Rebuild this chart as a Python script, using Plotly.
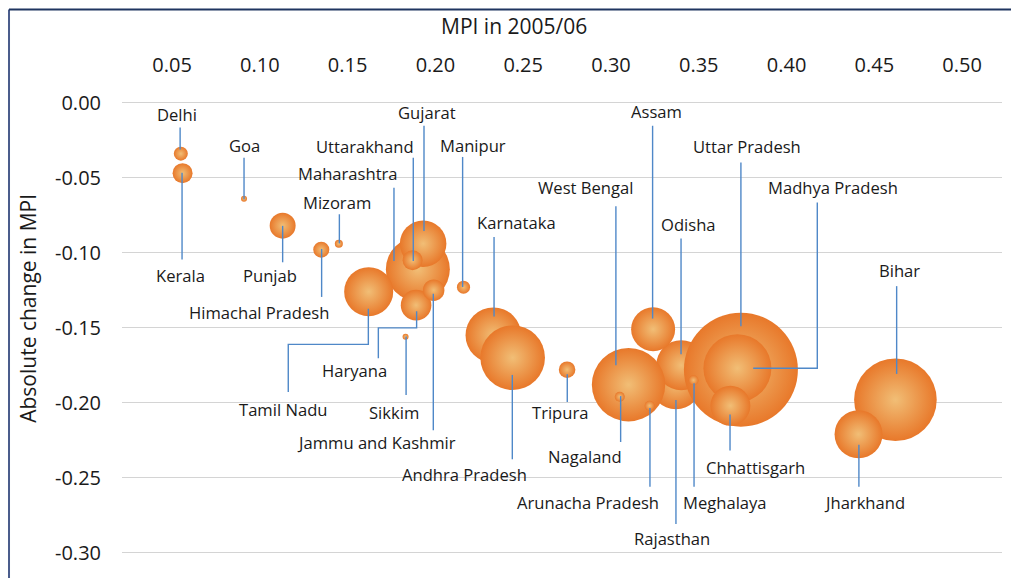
import plotly.graph_objects as go

# ---------------- data ----------------
states = [
    "Rajasthan", "Odisha", "West Bengal", "Uttar Pradesh", "Madhya Pradesh",
    "Chhattisgarh", "Bihar", "Jharkhand", "Karnataka", "Andhra Pradesh",
    "Maharashtra", "Gujarat", "Tamil Nadu", "Assam", "Haryana", "Punjab",
    "Jammu and Kashmir", "Kerala", "Uttarakhand", "Tripura", "Himachal Pradesh",
    "Delhi", "Manipur", "Nagaland", "Arunacha Pradesh", "Meghalaya", "Mizoram",
    "Goa", "Sikkim",
]
mpi_2005 = [
    0.337, 0.340, 0.310, 0.374, 0.372,
    0.368, 0.462, 0.441, 0.233, 0.244,
    0.190, 0.193, 0.162, 0.324, 0.189, 0.113,
    0.199, 0.056, 0.187, 0.275, 0.135,
    0.055, 0.216, 0.305, 0.322, 0.347, 0.145,
    0.091, 0.183,
]
abs_change = [
    -0.187, -0.175, -0.188, -0.178, -0.177,
    -0.202, -0.198, -0.221, -0.155, -0.170,
    -0.111, -0.094, -0.126, -0.151, -0.135, -0.082,
    -0.125, -0.047, -0.105, -0.178, -0.098,
    -0.034, -0.123, -0.196, -0.202, -0.185, -0.094,
    -0.064, -0.156,
]
bubble_value = [
    34.5, 31.9, 68.8, 166.0, 59.1,
    20.4, 87.2, 29.4, 39.5, 53.3,
    52.3, 27.7, 30.7, 24.7, 12.0, 8.6,
    5.9, 5.1, 5.1, 3.5, 3.3,
    2.5, 2.2, 1.3, 1.3, 1.3, 0.82,
    0.46, 0.46,
]

x_ticks = [0.05, 0.10, 0.15, 0.20, 0.25, 0.30, 0.35, 0.40, 0.45, 0.50]
y_ticks = [0.00, -0.05, -0.10, -0.15, -0.20, -0.25, -0.30]

# ---------------- label layout (data units) ----------------
label_pos = {
    "Delhi": (0.0527, -0.0077), "Goa": (0.0912, -0.0285),
    "Kerala": (0.0546, -0.1152), "Punjab": (0.1058, -0.1152),
    "Mizoram": (0.1440, -0.0664), "Himachal Pradesh": (0.0997, -0.1401),
    "Maharashtra": (0.1502, -0.0472), "Uttarakhand": (0.1599, -0.0291),
    "Gujarat": (0.1954, -0.0066), "Manipur": (0.2216, -0.0285),
    "Karnataka": (0.2459, -0.0797), "Tamil Nadu": (0.1134, -0.2046),
    "Haryana": (0.1538, -0.1785), "Sikkim": (0.1763, -0.2062),
    "Jammu and Kashmir": (0.1666, -0.2267), "Andhra Pradesh": (0.2163, -0.2477),
    "Tripura": (0.2707, -0.2068), "West Bengal": (0.2852, -0.0565),
    "Nagaland": (0.2854, -0.2360), "Arunacha Pradesh": (0.2869, -0.2664),
    "Rajasthan": (0.3346, -0.2907), "Meghalaya": (0.3652, -0.2664),
    "Chhattisgarh": (0.3825, -0.2432), "Jharkhand": (0.4446, -0.2664),
    "Bihar": (0.4646, -0.1119), "Odisha": (0.3440, -0.0810),
    "Assam": (0.3262, -0.0062), "Uttar Pradesh": (0.3773, -0.0291),
    "Madhya Pradesh": (0.4266, -0.0567),
}
leader_paths = {
    "Delhi": [(0.0546, -0.0166), (0.0546, -0.0313)],
    "Goa": [(0.0910, -0.0368), (0.0910, -0.0644)],
    "Kerala": [(0.0557, -0.0468), (0.0557, -0.1046)],
    "Punjab": [(0.1130, -0.0821), (0.1130, -0.1064)],
    "Mizoram": [(0.1453, -0.0744), (0.1453, -0.0938)],
    "Himachal Pradesh": [(0.1352, -0.0975), (0.1352, -0.1295)],
    "Maharashtra": [(0.1764, -0.0567), (0.1764, -0.1055)],
    "Uttarakhand": [(0.1874, -0.0368), (0.1874, -0.1055)],
    "Gujarat": [(0.1935, -0.0154), (0.1935, -0.0856)],
    "Manipur": [(0.2155, -0.0362), (0.2155, -0.1229)],
    "Karnataka": [(0.2334, -0.0896), (0.2334, -0.1426)],
    "Tamil Nadu": [(0.1618, -0.1373), (0.1618, -0.1611), (0.1162, -0.1611), (0.1162, -0.1929)],
    "Haryana": [(0.1893, -0.1391), (0.1893, -0.1501), (0.1675, -0.1501), (0.1675, -0.1704)],
    "Sikkim": [(0.1833, -0.1558), (0.1833, -0.1949)],
    "Jammu and Kashmir": [(0.1988, -0.1274), (0.1988, -0.2183)],
    "Andhra Pradesh": [(0.2438, -0.1815), (0.2438, -0.2377)],
    "Tripura": [(0.2751, -0.1810), (0.2751, -0.1995)],
    "West Bengal": [(0.3028, -0.0691), (0.3028, -0.1750)],
    "Nagaland": [(0.3055, -0.1956), (0.3055, -0.2262)],
    "Arunacha Pradesh": [(0.3222, -0.2035), (0.3222, -0.2560)],
    "Rajasthan": [(0.3370, -0.1982), (0.3370, -0.2808)],
    "Meghalaya": [(0.3473, -0.1870), (0.3473, -0.2560)],
    "Chhattisgarh": [(0.3678, -0.2079), (0.3678, -0.2318)],
    "Jharkhand": [(0.4412, -0.2280), (0.4412, -0.2560)],
    "Bihar": [(0.4627, -0.1223), (0.4627, -0.1808)],
    "Odisha": [(0.3399, -0.0905), (0.3399, -0.1677)],
    "Assam": [(0.3237, -0.0154), (0.3237, -0.1439)],
    "Uttar Pradesh": [(0.3740, -0.0399), (0.3740, -0.1490)],
    "Madhya Pradesh": [(0.4175, -0.0666), (0.4175, -0.1770), (0.3810, -0.1770)],
}

FONT = "Open Sans"

fig = go.Figure()

fig.add_trace(go.Scatter(
    x=mpi_2005, y=abs_change, mode="markers", text=states,
    marker=dict(
        size=bubble_value, sizemode="area", sizeref=0.02555,
        color="#E8782A",
        gradient=dict(type="radial", color="#F1BE76"),
        line=dict(width=0), opacity=1,
    ),
    hovertemplate="%{text}<br>MPI 2005/06: %{x}<br>Change: %{y}<extra></extra>",
    showlegend=False,
))

lx, ly = [], []
for s in states:
    for (px, py) in leader_paths[s]:
        lx.append(px)
        ly.append(py)
    lx.append(None)
    ly.append(None)
fig.add_trace(go.Scatter(
    x=lx, y=ly, mode="lines", line=dict(color="#4F88C8", width=1.4),
    hoverinfo="skip", showlegend=False,
))

annotations = []
for s in states:
    ax, ay = label_pos[s]
    annotations.append(dict(
        x=ax, y=ay, xref="x", yref="y", text=s, showarrow=False,
        xanchor="center", yanchor="middle",
        font=dict(family=FONT, size=16.6, color="#1a1a1a"),
    ))

annotations.append(dict(
    x=0.4455, y=1.165, xref="paper", yref="paper", text="MPI in 2005/06",
    showarrow=False, xanchor="center", yanchor="middle",
    font=dict(family=FONT, size=21, color="#1a1a1a"),
))
annotations.append(dict(
    x=-0.1068, y=0.5424, xref="paper", yref="paper", text="Absolute change in MPI",
    showarrow=False, xanchor="center", yanchor="middle", textangle=-90,
    font=dict(family=FONT, size=21, color="#1a1a1a"),
))

fig.update_layout(
    width=1011, height=570,
    margin=dict(l=114, r=17, t=93, b=20),
    paper_bgcolor="white", plot_bgcolor="white",
    font=dict(family=FONT, color="#1a1a1a"),
    annotations=annotations,
    shapes=[
        dict(type="line", xref="paper", yref="paper", x0=-0.1284, x1=-0.1284,
             y0=-0.06, y1=1.2013, line=dict(color="#4A5C8C", width=2)),
        dict(type="line", xref="paper", yref="paper", x0=-0.1284, x1=1.03,
             y0=1.2013, y1=1.2013, line=dict(color="#1F3560", width=2)),
    ],
)
fig.update_xaxes(
    side="top", range=[0.0215, 0.5227], tickvals=x_ticks,
    ticktext=[f"{v:.2f}" for v in x_ticks],
    showgrid=False, zeroline=False, showline=False, ticks="",
    ticklabelstandoff=24,
    tickfont=dict(family=FONT, size=20, color="#1a1a1a"),
)
fig.update_yaxes(
    range=[-0.3015, 0.0011], tickvals=y_ticks,
    ticktext=[f"{v:.2f}" for v in y_ticks],
    showgrid=True, gridcolor="#D4D4D4", gridwidth=1.3,
    zeroline=False, showline=False, ticks="",
    ticklabelstandoff=20,
    tickfont=dict(family=FONT, size=20, color="#1a1a1a"),
)

fig.write_html("out.html")
